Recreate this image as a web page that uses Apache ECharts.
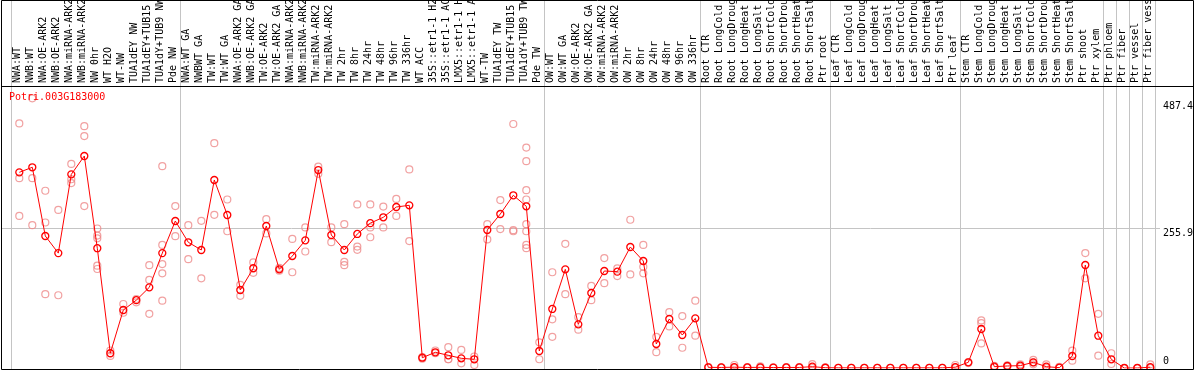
<!DOCTYPE html>
<html><head><meta charset="utf-8">
<script src="https://cdn.jsdelivr.net/npm/echarts@6/dist/echarts.min.js"></script>
<style>html,body{margin:0;padding:0;background:#fff}#c{width:1194px;height:370px}</style>
</head><body><div id="c"></div>
<script>
const title = 'Potri.003G183000';
const categories = [
 'NWA:WT','NWB:WT','NWA:OE-ARK2','NWB:OE-ARK2','NWA:miRNA-ARK2','NWB:miRNA-ARK2','NW 0hr','WT H2O','WT-NW','TUA1dEY NW','TUA1dEY+TUB15','TUA1dY+TUB9 NW','Pde NW',
 'NWA:WT GA','NWBWT GA','TW:WT','TW:WT GA','NWA:OE-ARK2 GA','NWB:OE-ARK2 GA','TW:OE-ARK2','TW:OE-ARK2 GA','NWA:miRNA-ARK2','NWB:miRNA-ARK2','TW:miRNA-ARK2','TW:miRNA-ARK2',
 'TW 2hr','TW 8hr','TW 24hr','TW 48hr','TW 96hr','TW 336hr','WT ACC','35S::etr1-1 H2O','35S::etr1-1 ACC','LMX5::etr1-1 H2O','LMX5::etr1-1 ACC','WT-TW','TUA1dEY TW','TUA1dEY+TUB15','TUA1dY+TUB9 TW','Pde TW',
 'OW:WT','OW:WT GA','OW:OE-ARK2','OW:OE-ARK2 GA','OW:miRNA-ARK2','OW:miRNA-ARK2','OW 2hr','OW 8hr','OW 24hr','OW 48hr','OW 96hr','OW 336hr',
 'Root CTR','Root LongCold','Root LongDrought','Root LongHeat','Root LongSalt','Root ShortCold','Root ShortDrought','Root ShortHeat','Root ShortSalt','Ptr root',
 'Leaf CTR','Leaf LongCold','Leaf LongDrought','Leaf LongHeat','Leaf LongSalt','Leaf ShortCold','Leaf ShortDrought','Leaf ShortHeat','Leaf ShortSalt','Ptr leaf',
 'Stem CTR','Stem LongCold','Stem LongDrought','Stem LongHeat','Stem LongSalt','Stem ShortCold','Stem ShortDrought','Stem ShortHeat','Stem ShortSalt','Ptr shoot',
 'Ptr xylem','Ptr phloem','Ptr fiber','Ptr vessel','Ptr fiber vessel'
];
const means = [
 357.7,366.9,241.3,210,354,387.5,219,27,106,124,147.5,210,268.7,
 229.8,215.7,343.7,279.7,142.6,182.3,259.6,180.4,204.7,233.4,361.9,243.1,
 215.7,245,264.8,275.5,294.3,297.4,18.8,28.7,23.2,17.7,15.9,252.3,281.5,315.7,295.6,31.1,
 107.9,180.4,79.8,137.1,177.3,176.1,221.2,195.6,43.9,89.6,60.3,90.8,
 1.2,1,1.5,1,1.2,0.8,1,1,2.4,0.5,
 0.3,0.3,0.3,0.3,0.3,0.3,0.3,0.3,0.3,1.5,
 10.4,71.3,2.4,3.7,4.3,10.4,2.4,0.6,21.9,188.3,
 59,15.9,0,0,1.5
];
const replicates = [
 [447,347,278],[493,347,261],[324,266,135],[289,133],[373,345,338],[442,424,296],[255,242,237,187,181],
 [32,22],[117,101],[126,120],[188,161,99],[369,225,190,173,123],[296,241],
 [261,199],[269,164],[411,280],[308,250],[152,132],[193,174],[272,246],[183,178],[236,175],[257,213],[368,355],[257,230],
 [263,194,188],[299,222,216],[299,257,239],[295,257],[309,278],[363,232],[20,17],[32,27],[38,16,16],[33,8.5],[21,5.5],[263,235],
 [307,254],[446,252,250],[403,378,325,308,263,250,225,219],[47,16],
 [175,89,57],[227,135],[93,70],[150,124],[201,155],[182,168],[271,171],[225,185,173],[57,29],[102,76],[95,37],[123,59],
 [1.5,1],[1,0.5],[5.5,0],[1.5,0.5],[3,0],[1,0.5],[1.5,0.5],[1.5,0.5],[7,0],[1,0],
 [0.5,0],[0.5,0],[0.5,0],[0.5,0],[0.5,0],[0.5,0],[0.5,0],[0.5,0],[0.5,0],[5.5,0],
 [11,9],[82,45,87],[4,1],[5,2.5],[6.7,2],[15,10,6.7],[6.7,0],[2,0],[31.6,13.3],[210,164],
 [99,22.5],[27,7.3],[0,0],[0,0],[6.7,0,0]
];
const groupEnds = [12,40,52,62,72,83,84,85,86,87];
const yTickLabels = ['487.4','255.9','0'];
const yTickValues = [487.4,255.9,0];
const yMax = 515.5;

const mono = 'DejaVu Sans Mono';
const chart = echarts.init(document.getElementById('c'), null, {renderer:'canvas'});
const repData = [];
replicates.forEach((arr,i)=>arr.forEach(v=>repData.push([i,v])));

chart.setOption({
  animation:false,
  grid:{left:12.8, right:37.2, top:86, bottom:2, containLabel:false},
  xAxis:{type:'category', data:categories, position:'top', boundaryGap:true,
    axisLine:{show:false}, axisTick:{show:false}, splitLine:{show:false},
    axisLabel:{show:false}},
  yAxis:{type:'value', min:0, max:yMax, show:false},
  series:[
    {type:'scatter', data:repData, symbol:'circle', symbolSize:7, z:3,
     itemStyle:{color:'rgba(0,0,0,0)', borderColor:'#ee8a8a', borderWidth:1.2}},
    {type:'line', data:means, symbol:'circle', symbolSize:7, z:4,
     itemStyle:{color:'rgba(0,0,0,0)', borderColor:'#ff0000', borderWidth:1.3},
     lineStyle:{color:'#ff0000', width:1}}
  ]
});

const px = i => chart.convertToPixel({xAxisIndex:0}, i);
const py = v => chart.convertToPixel({yAxisIndex:0}, v);
const gray = '#c4c4c4';
const els = [];
const vline = (x) => els.push({type:'line', z:1, silent:true,
  shape:{x1:x, y1:0, x2:x, y2:369}, style:{stroke:gray, lineWidth:1}});
vline(Math.round(px(0) - 8.3) + 0.5);
groupEnds.forEach(i => vline(Math.round(px(i) + 5) + 0.5));
const yMid = Math.round(py(255.9)) + 0.5;
els.push({type:'line', z:1, silent:true, shape:{x1:2, y1:yMid, x2:1160, y2:yMid}, style:{stroke:gray, lineWidth:1}});
els.push({type:'line', z:10, silent:true, shape:{x1:1, y1:86.5, x2:1193.5, y2:86.5}, style:{stroke:'#000', lineWidth:1}});
els.push({type:'rect', z:10, silent:true, shape:{x:1.5, y:0.5, width:1192, height:369}, style:{fill:null, stroke:'#000', lineWidth:1}});
// category labels, placed at the category axis positions
categories.forEach((name, i) => {
  els.push({type:'text', z:10, silent:true, x: px(i) - 1.5, y: 83, rotation: Math.PI/2,
    style:{text:name, fill:'#000', font:'10px "' + mono + '"', textAlign:'left', textVerticalAlign:'middle'}});
});
yTickValues.forEach((v,k) => {
  const y = py(v);
  els.push({type:'text', z:10, silent:true, x:1163, y: v === 0 ? y - 2 : y,
    style:{text:yTickLabels[k], fill:'#000', font:'10px "' + mono + '"',
      textAlign:'left', textVerticalAlign: v === 0 ? 'bottom' : 'top'}});
});
els.push({type:'text', z:10, silent:true, x:9, y:97,
  style:{text:title, fill:'#ff0000', font:'10px "' + mono + '"', textAlign:'left', textVerticalAlign:'middle'}});
chart.setOption({graphic:{elements:els}});
</script>
</body></html>
